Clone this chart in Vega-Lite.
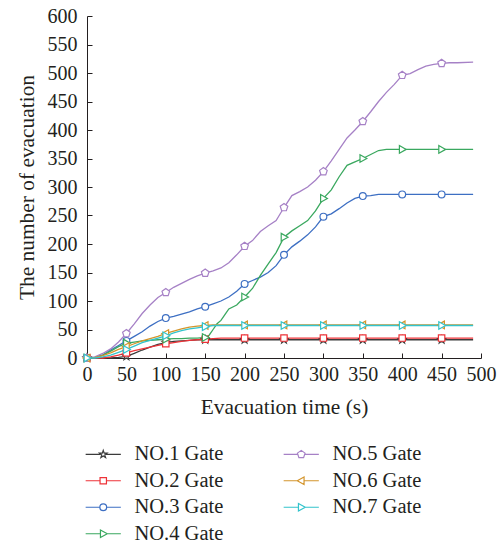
{
  "$schema": "https://vega.github.io/schema/vega-lite/v6.json",
  "width": 394,
  "height": 342,
  "autosize": {"type": "none"},
  "padding": {"left": 87, "top": 16, "right": 20, "bottom": 188},
  "background": "white",
  "config": {
    "view": {"stroke": null},
    "font": "Liberation Serif",
    "axis": {
      "domainColor": "#231f20",
      "tickColor": "#231f20",
      "domainWidth": 1,
      "tickWidth": 1,
      "tickSize": -5,
      "grid": false,
      "labelOverlap": false,
      "labelSeparation": -15,
      "labelFlush": false,
      "labelFont": "Liberation Serif",
      "labelFontSize": 20,
      "labelColor": "#231f20",
      "titleFont": "Liberation Serif",
      "titleFontSize": 21.4,
      "titleFontWeight": "normal",
      "titleColor": "#231f20"
    }
  },
  "datasets": {
    "d": [
      {"g":"NO.1 Gate","t":0,"v":0},{"g":"NO.1 Gate","t":10,"v":0},{"g":"NO.1 Gate","t":20,"v":0},{"g":"NO.1 Gate","t":30,"v":0},{"g":"NO.1 Gate","t":40,"v":1},{"g":"NO.1 Gate","t":50,"v":3},{"g":"NO.1 Gate","t":60,"v":8},{"g":"NO.1 Gate","t":70,"v":14},{"g":"NO.1 Gate","t":80,"v":19},{"g":"NO.1 Gate","t":90,"v":24},{"g":"NO.1 Gate","t":100,"v":27},{"g":"NO.1 Gate","t":110,"v":29},{"g":"NO.1 Gate","t":120,"v":30},{"g":"NO.1 Gate","t":130,"v":31},{"g":"NO.1 Gate","t":140,"v":32},{"g":"NO.1 Gate","t":150,"v":32},{"g":"NO.1 Gate","t":200,"v":32},{"g":"NO.1 Gate","t":250,"v":32},{"g":"NO.1 Gate","t":300,"v":32},{"g":"NO.1 Gate","t":350,"v":32},{"g":"NO.1 Gate","t":400,"v":32},{"g":"NO.1 Gate","t":450,"v":32},{"g":"NO.1 Gate","t":490,"v":32},
      {"g":"NO.2 Gate","t":0,"v":0},{"g":"NO.2 Gate","t":10,"v":0},{"g":"NO.2 Gate","t":20,"v":0},{"g":"NO.2 Gate","t":30,"v":2},{"g":"NO.2 Gate","t":40,"v":5},{"g":"NO.2 Gate","t":50,"v":9},{"g":"NO.2 Gate","t":60,"v":13},{"g":"NO.2 Gate","t":70,"v":16},{"g":"NO.2 Gate","t":80,"v":19},{"g":"NO.2 Gate","t":90,"v":22},{"g":"NO.2 Gate","t":100,"v":25},{"g":"NO.2 Gate","t":110,"v":27},{"g":"NO.2 Gate","t":120,"v":29},{"g":"NO.2 Gate","t":130,"v":31},{"g":"NO.2 Gate","t":140,"v":32},{"g":"NO.2 Gate","t":150,"v":33},{"g":"NO.2 Gate","t":160,"v":34},{"g":"NO.2 Gate","t":170,"v":35},{"g":"NO.2 Gate","t":200,"v":35},{"g":"NO.2 Gate","t":250,"v":35},{"g":"NO.2 Gate","t":300,"v":35},{"g":"NO.2 Gate","t":350,"v":35},{"g":"NO.2 Gate","t":400,"v":35},{"g":"NO.2 Gate","t":450,"v":35},{"g":"NO.2 Gate","t":490,"v":35},
      {"g":"NO.3 Gate","t":0,"v":0},{"g":"NO.3 Gate","t":10,"v":1},{"g":"NO.3 Gate","t":20,"v":5},{"g":"NO.3 Gate","t":30,"v":14},{"g":"NO.3 Gate","t":40,"v":22},{"g":"NO.3 Gate","t":50,"v":30},{"g":"NO.3 Gate","t":60,"v":38},{"g":"NO.3 Gate","t":70,"v":46},{"g":"NO.3 Gate","t":80,"v":56},{"g":"NO.3 Gate","t":90,"v":64},{"g":"NO.3 Gate","t":100,"v":70},{"g":"NO.3 Gate","t":110,"v":73},{"g":"NO.3 Gate","t":120,"v":77},{"g":"NO.3 Gate","t":130,"v":81},{"g":"NO.3 Gate","t":140,"v":86},{"g":"NO.3 Gate","t":150,"v":90},{"g":"NO.3 Gate","t":160,"v":95},{"g":"NO.3 Gate","t":170,"v":100},{"g":"NO.3 Gate","t":180,"v":107},{"g":"NO.3 Gate","t":190,"v":117},{"g":"NO.3 Gate","t":200,"v":130},{"g":"NO.3 Gate","t":210,"v":136},{"g":"NO.3 Gate","t":220,"v":142},{"g":"NO.3 Gate","t":230,"v":150},{"g":"NO.3 Gate","t":240,"v":162},{"g":"NO.3 Gate","t":250,"v":181},{"g":"NO.3 Gate","t":260,"v":195},{"g":"NO.3 Gate","t":270,"v":205},{"g":"NO.3 Gate","t":280,"v":216},{"g":"NO.3 Gate","t":290,"v":230},{"g":"NO.3 Gate","t":300,"v":248},{"g":"NO.3 Gate","t":310,"v":253},{"g":"NO.3 Gate","t":320,"v":262},{"g":"NO.3 Gate","t":330,"v":272},{"g":"NO.3 Gate","t":340,"v":280},{"g":"NO.3 Gate","t":350,"v":284},{"g":"NO.3 Gate","t":360,"v":285},{"g":"NO.3 Gate","t":370,"v":287},{"g":"NO.3 Gate","t":400,"v":287},{"g":"NO.3 Gate","t":450,"v":287},{"g":"NO.3 Gate","t":490,"v":287},
      {"g":"NO.4 Gate","t":0,"v":0},{"g":"NO.4 Gate","t":10,"v":1},{"g":"NO.4 Gate","t":20,"v":5},{"g":"NO.4 Gate","t":30,"v":12},{"g":"NO.4 Gate","t":40,"v":20},{"g":"NO.4 Gate","t":50,"v":26},{"g":"NO.4 Gate","t":60,"v":28},{"g":"NO.4 Gate","t":70,"v":30},{"g":"NO.4 Gate","t":80,"v":31},{"g":"NO.4 Gate","t":90,"v":32},{"g":"NO.4 Gate","t":100,"v":33},{"g":"NO.4 Gate","t":110,"v":34},{"g":"NO.4 Gate","t":120,"v":34},{"g":"NO.4 Gate","t":130,"v":35},{"g":"NO.4 Gate","t":140,"v":35},{"g":"NO.4 Gate","t":150,"v":36},{"g":"NO.4 Gate","t":155,"v":40},{"g":"NO.4 Gate","t":160,"v":50},{"g":"NO.4 Gate","t":165,"v":60},{"g":"NO.4 Gate","t":170,"v":66},{"g":"NO.4 Gate","t":175,"v":76},{"g":"NO.4 Gate","t":180,"v":86},{"g":"NO.4 Gate","t":190,"v":93},{"g":"NO.4 Gate","t":200,"v":107},{"g":"NO.4 Gate","t":210,"v":122},{"g":"NO.4 Gate","t":220,"v":145},{"g":"NO.4 Gate","t":230,"v":165},{"g":"NO.4 Gate","t":240,"v":185},{"g":"NO.4 Gate","t":250,"v":212},{"g":"NO.4 Gate","t":260,"v":223},{"g":"NO.4 Gate","t":270,"v":232},{"g":"NO.4 Gate","t":280,"v":241},{"g":"NO.4 Gate","t":290,"v":258},{"g":"NO.4 Gate","t":300,"v":280},{"g":"NO.4 Gate","t":310,"v":295},{"g":"NO.4 Gate","t":320,"v":318},{"g":"NO.4 Gate","t":330,"v":338},{"g":"NO.4 Gate","t":340,"v":344},{"g":"NO.4 Gate","t":350,"v":350},{"g":"NO.4 Gate","t":360,"v":357},{"g":"NO.4 Gate","t":370,"v":364},{"g":"NO.4 Gate","t":380,"v":366},{"g":"NO.4 Gate","t":400,"v":366},{"g":"NO.4 Gate","t":450,"v":366},{"g":"NO.4 Gate","t":490,"v":366},
      {"g":"NO.5 Gate","t":0,"v":0},{"g":"NO.5 Gate","t":10,"v":2},{"g":"NO.5 Gate","t":20,"v":8},{"g":"NO.5 Gate","t":30,"v":16},{"g":"NO.5 Gate","t":40,"v":28},{"g":"NO.5 Gate","t":50,"v":43},{"g":"NO.5 Gate","t":60,"v":60},{"g":"NO.5 Gate","t":70,"v":78},{"g":"NO.5 Gate","t":80,"v":93},{"g":"NO.5 Gate","t":90,"v":106},{"g":"NO.5 Gate","t":100,"v":115},{"g":"NO.5 Gate","t":110,"v":124},{"g":"NO.5 Gate","t":120,"v":131},{"g":"NO.5 Gate","t":130,"v":138},{"g":"NO.5 Gate","t":140,"v":144},{"g":"NO.5 Gate","t":150,"v":149},{"g":"NO.5 Gate","t":160,"v":153},{"g":"NO.5 Gate","t":170,"v":158},{"g":"NO.5 Gate","t":180,"v":167},{"g":"NO.5 Gate","t":190,"v":181},{"g":"NO.5 Gate","t":200,"v":196},{"g":"NO.5 Gate","t":210,"v":206},{"g":"NO.5 Gate","t":220,"v":222},{"g":"NO.5 Gate","t":230,"v":232},{"g":"NO.5 Gate","t":240,"v":241},{"g":"NO.5 Gate","t":250,"v":264},{"g":"NO.5 Gate","t":260,"v":285},{"g":"NO.5 Gate","t":270,"v":292},{"g":"NO.5 Gate","t":280,"v":300},{"g":"NO.5 Gate","t":290,"v":312},{"g":"NO.5 Gate","t":300,"v":327},{"g":"NO.5 Gate","t":310,"v":346},{"g":"NO.5 Gate","t":320,"v":366},{"g":"NO.5 Gate","t":330,"v":386},{"g":"NO.5 Gate","t":340,"v":400},{"g":"NO.5 Gate","t":350,"v":415},{"g":"NO.5 Gate","t":360,"v":432},{"g":"NO.5 Gate","t":370,"v":450},{"g":"NO.5 Gate","t":380,"v":466},{"g":"NO.5 Gate","t":390,"v":480},{"g":"NO.5 Gate","t":400,"v":496},{"g":"NO.5 Gate","t":410,"v":499},{"g":"NO.5 Gate","t":420,"v":506},{"g":"NO.5 Gate","t":430,"v":512},{"g":"NO.5 Gate","t":440,"v":515},{"g":"NO.5 Gate","t":450,"v":517},{"g":"NO.5 Gate","t":460,"v":518},{"g":"NO.5 Gate","t":470,"v":518},{"g":"NO.5 Gate","t":490,"v":519},
      {"g":"NO.6 Gate","t":0,"v":0},{"g":"NO.6 Gate","t":10,"v":1},{"g":"NO.6 Gate","t":20,"v":4},{"g":"NO.6 Gate","t":30,"v":9},{"g":"NO.6 Gate","t":40,"v":15},{"g":"NO.6 Gate","t":50,"v":20},{"g":"NO.6 Gate","t":60,"v":25},{"g":"NO.6 Gate","t":70,"v":30},{"g":"NO.6 Gate","t":80,"v":34},{"g":"NO.6 Gate","t":90,"v":38},{"g":"NO.6 Gate","t":100,"v":43},{"g":"NO.6 Gate","t":110,"v":47},{"g":"NO.6 Gate","t":120,"v":51},{"g":"NO.6 Gate","t":130,"v":54},{"g":"NO.6 Gate","t":140,"v":56},{"g":"NO.6 Gate","t":150,"v":57},{"g":"NO.6 Gate","t":160,"v":58},{"g":"NO.6 Gate","t":200,"v":58},{"g":"NO.6 Gate","t":250,"v":58},{"g":"NO.6 Gate","t":300,"v":58},{"g":"NO.6 Gate","t":350,"v":58},{"g":"NO.6 Gate","t":400,"v":58},{"g":"NO.6 Gate","t":450,"v":58},{"g":"NO.6 Gate","t":490,"v":58},
      {"g":"NO.7 Gate","t":0,"v":0},{"g":"NO.7 Gate","t":10,"v":0},{"g":"NO.7 Gate","t":20,"v":2},{"g":"NO.7 Gate","t":30,"v":5},{"g":"NO.7 Gate","t":40,"v":10},{"g":"NO.7 Gate","t":50,"v":15},{"g":"NO.7 Gate","t":60,"v":21},{"g":"NO.7 Gate","t":70,"v":27},{"g":"NO.7 Gate","t":80,"v":31},{"g":"NO.7 Gate","t":90,"v":35},{"g":"NO.7 Gate","t":100,"v":39},{"g":"NO.7 Gate","t":110,"v":44},{"g":"NO.7 Gate","t":120,"v":48},{"g":"NO.7 Gate","t":130,"v":51},{"g":"NO.7 Gate","t":140,"v":53},{"g":"NO.7 Gate","t":150,"v":55},{"g":"NO.7 Gate","t":160,"v":57},{"g":"NO.7 Gate","t":200,"v":57},{"g":"NO.7 Gate","t":250,"v":57},{"g":"NO.7 Gate","t":300,"v":57},{"g":"NO.7 Gate","t":350,"v":57},{"g":"NO.7 Gate","t":400,"v":57},{"g":"NO.7 Gate","t":450,"v":57},{"g":"NO.7 Gate","t":490,"v":57}
    ]
  },
  "data": {"name": "d"},
  "resolve": {
    "scale": {"color": "independent", "shape": "independent"},
    "legend": {"color": "independent", "shape": "independent"}
  },
  "encoding": {
    "x": {"field": "t", "type": "quantitative",
      "scale": {"domain": [0, 500], "nice": false},
      "axis": {"values": [0,50,100,150,200,250,300,350,400,450,500], "labelOverlap": false, "labelSeparation": -15, "title": "Evacuation time (s)", "labelPadding": 11, "titlePadding": 12}},
    "y": {"field": "v", "type": "quantitative",
      "scale": {"domain": [0, 600], "nice": false},
      "axis": {"values": [0,50,100,150,200,250,300,350,400,450,500,550,600], "labelOverlap": false, "labelSeparation": -15, "title": "The number of evacuation", "labelPadding": 15, "titlePadding": 10}}
  },
  "layer": [
    {
      "mark": {"type": "line", "strokeWidth": 1.3},
      "encoding": {
        "color": {"field": "g", "type": "nominal", "legend": null,
          "scale": {"domain": ["NO.1 Gate","NO.2 Gate","NO.3 Gate","NO.4 Gate","NO.5 Gate","NO.6 Gate","NO.7 Gate"],
                    "range": ["#3b3b3b","#ee3338","#3d6fc3","#3aa85f","#a681c6","#d4952c","#33c4cc"]}},
        "order": {"field": "t"}
      }
    },
    {
      "transform": [{"filter": "datum.t % 50 == 0 && datum.t <= 450"}],
      "mark": {"type": "point", "filled": false, "fill": "white", "fillOpacity": 1, "strokeWidth": 1.2, "size": 64, "opacity": 1},
      "encoding": {
        "color": {"field": "g", "type": "nominal", "legend": null,
          "scale": {"domain": ["NO.1 Gate","NO.2 Gate","NO.3 Gate","NO.4 Gate","NO.5 Gate","NO.6 Gate","NO.7 Gate"],
                    "range": ["#3b3b3b","#ee3338","#3d6fc3","#3aa85f","#a681c6","#d4952c","#33c4cc"]}},
        "shape": {"field": "g", "type": "nominal", "legend": null,
          "scale": {"domain": ["NO.1 Gate","NO.2 Gate","NO.3 Gate","NO.4 Gate","NO.5 Gate","NO.6 Gate","NO.7 Gate"],
                    "range": [
                      "M0,-1L0.235,-0.324L0.951,-0.309L0.380,0.124L0.588,0.809L0,0.4L-0.588,0.809L-0.380,0.124L-0.951,-0.309L-0.235,-0.324Z",
                      "M-0.8,-0.8H0.8V0.8H-0.8Z",
                      "M-0.85,0A0.85,0.85,0,1,0,0.85,0A0.85,0.85,0,1,0,-0.85,0Z",
                      "M-0.7,-0.95L1,0L-0.7,0.95Z",
                      "M0,-1L0.951,-0.309L0.588,0.809L-0.588,0.809L-0.951,-0.309Z",
                      "M0.7,-0.95L-1,0L0.7,0.95Z",
                      "M-0.7,-0.95L1,0L-0.7,0.95Z"
                    ]}}
      }
    },
    {
      "transform": [{"filter": "datum.t < 0"}],
      "mark": {"type": "point", "filled": false, "fill": "white", "fillOpacity": 1, "strokeWidth": 1.2},
      "encoding": {
        "color": {"field": "g", "type": "nominal",
          "scale": {"domain": ["NO.1 Gate","NO.2 Gate","NO.3 Gate","NO.4 Gate","NO.5 Gate","NO.6 Gate","NO.7 Gate"],
                    "range": ["#3b3b3b","#ee3338","#3d6fc3","#3aa85f","#a681c6","#d4952c","#33c4cc"]},
          "legend": {"orient": "none", "legendX": 6, "legendY": 428, "columns": 2, "title": null, "padding": 0,
            "columnPadding": 57, "rowPadding": 5.5, "labelOffset": 21, "labelFont": "Liberation Serif", "labelFontSize": 20.5,
            "labelColor": "#231f20", "symbolSize": 64, "symbolStrokeWidth": 1.2, "labelLimit": 200}},
        "shape": {"field": "g", "type": "nominal",
          "scale": {"domain": ["NO.1 Gate","NO.2 Gate","NO.3 Gate","NO.4 Gate","NO.5 Gate","NO.6 Gate","NO.7 Gate"],
                    "range": [
                      "M0,-1L0.235,-0.324L0.951,-0.309L0.380,0.124L0.588,0.809L0,0.4L-0.588,0.809L-0.380,0.124L-0.951,-0.309L-0.235,-0.324ZM-4.4,0H-0.7M0.7,0H4.4",
                      "M-0.8,-0.8H0.8V0.8H-0.8ZM-4.4,0H-0.8M0.8,0H4.4",
                      "M-0.85,0A0.85,0.85,0,1,0,0.85,0A0.85,0.85,0,1,0,-0.85,0ZM-4.4,0H-0.85M0.85,0H4.4",
                      "M-0.7,-0.95L1,0L-0.7,0.95ZM-4.4,0H-0.7M1,0H4.4",
                      "M0,-1L0.951,-0.309L0.588,0.809L-0.588,0.809L-0.951,-0.309ZM-4.4,0H-0.8M0.8,0H4.4",
                      "M0.7,-0.95L-1,0L0.7,0.95ZM-4.4,0H-1M0.7,0H4.4",
                      "M-0.7,-0.95L1,0L-0.7,0.95ZM-4.4,0H-0.7M1,0H4.4"
                    ]}}
      }
    }
  ]
}
